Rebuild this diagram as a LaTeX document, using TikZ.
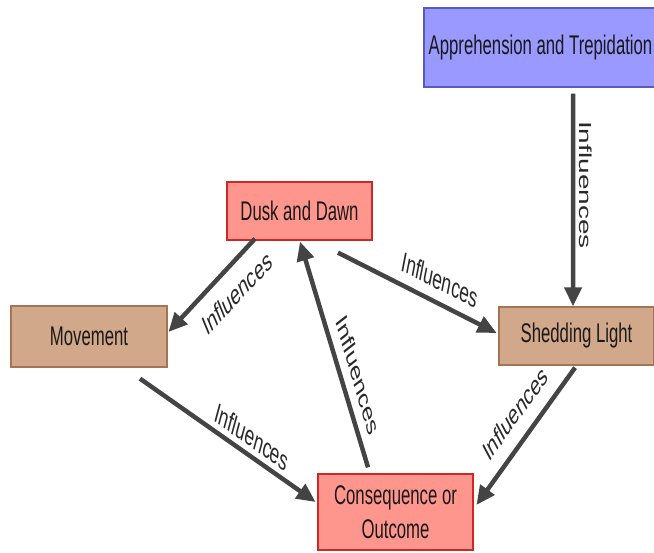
\documentclass[tikz,border=0pt]{standalone}
\usepackage{fontspec}
\setmainfont{Liberation Sans}
\usetikzlibrary{calc,arrows.meta}
\definecolor{appfill}{RGB}{153,153,255}
\definecolor{appline}{RGB}{90,90,190}
\definecolor{redfill}{RGB}{255,150,142}
\definecolor{redline}{RGB}{205,40,40}
\definecolor{tanfill}{RGB}{210,168,138}
\definecolor{tanline}{RGB}{165,115,85}
\definecolor{arrgray}{RGB}{68,68,68}
\definecolor{labgray}{RGB}{40,40,40}
\begin{document}
% one unit = one pixel; the narrow lettering comes from the global xscale
\begin{tikzpicture}[x=1.612903pt, y=-1pt, xscale=0.62, transform shape,
  box/.style={draw, line width=1.3pt, inner sep=0pt, align=center,
    text=black!90, font=\fontsize{27}{34}\selectfont},
  bluebox/.style={box, fill=appfill, draw=appline},
  redbox/.style={box, fill=redfill, draw=redline},
  tanbox/.style={box, fill=tanfill, draw=tanline},
  arr/.style={draw=arrgray, line width=4.5pt,
    -{Triangle[length=19pt,width=17pt]}},
  lbl/.style={font=\fontsize{28}{30}\selectfont, text=labgray, inner sep=0pt}]
\useasboundingbox (0,0) rectangle (654,552);

% concept boxes
\node[bluebox, minimum width=375.8pt, minimum height=79pt] (app) at (540.5,47.5)
  {Apprehension and Trepidation};
\node[redbox, minimum width=233.9pt, minimum height=58pt] (dusk) at (299.5,211)
  {Dusk and Dawn};
\node[tanbox, minimum width=251.6pt, minimum height=61pt] (move) at (89,336.5)
  {Movement};
\node[tanbox, minimum width=250pt, minimum height=58pt] (shed) at (576.5,336)
  {Shedding Light};
\node[redbox, minimum width=250pt, minimum height=76pt] (cons) at (395.5,512)
  {Consequence or\\Outcome};

% influence links
\draw[arr] ($(app.south)+(32.5,6)$) -- ($(shed.north)+(-3.5,0)$);
\draw[arr] ($(dusk.south)+(-44.5,-2)$) -- ($(move.east)+(1,-4.5)$);
\draw[arr] ($(dusk.south)+(38.5,12)$) -- ($(shed.west)+(-2,-3)$);
\draw[arr] ($(cons.north)+(-27.5,-6)$) -- ($(dusk.south)+(0.5,1)$);
\draw[arr] ($(move.south)+(51,11)$) -- ($(cons.west)+(-2,-10)$);
\draw[arr] ($(shed.south)+(-1.5,2)$) -- ($(cons.east)+(3,-7)$);

% link labels
\node[lbl, rotate=-90] (l1) at (586,185) {Influences};
\node[lbl, rotate=33.8] (l2) at (237,293) {Influences};
\node[lbl, rotate=-17.5] (l3) at (440,280) {Influences};
\node[lbl, rotate=-64.2] (l4) at (358,375) {Influences};
\node[lbl, rotate=-23.6] (l5) at (252,437) {Influences};
\node[lbl, rotate=40.8] (l6) at (515,413) {Influences};
\end{tikzpicture}
\end{document}
